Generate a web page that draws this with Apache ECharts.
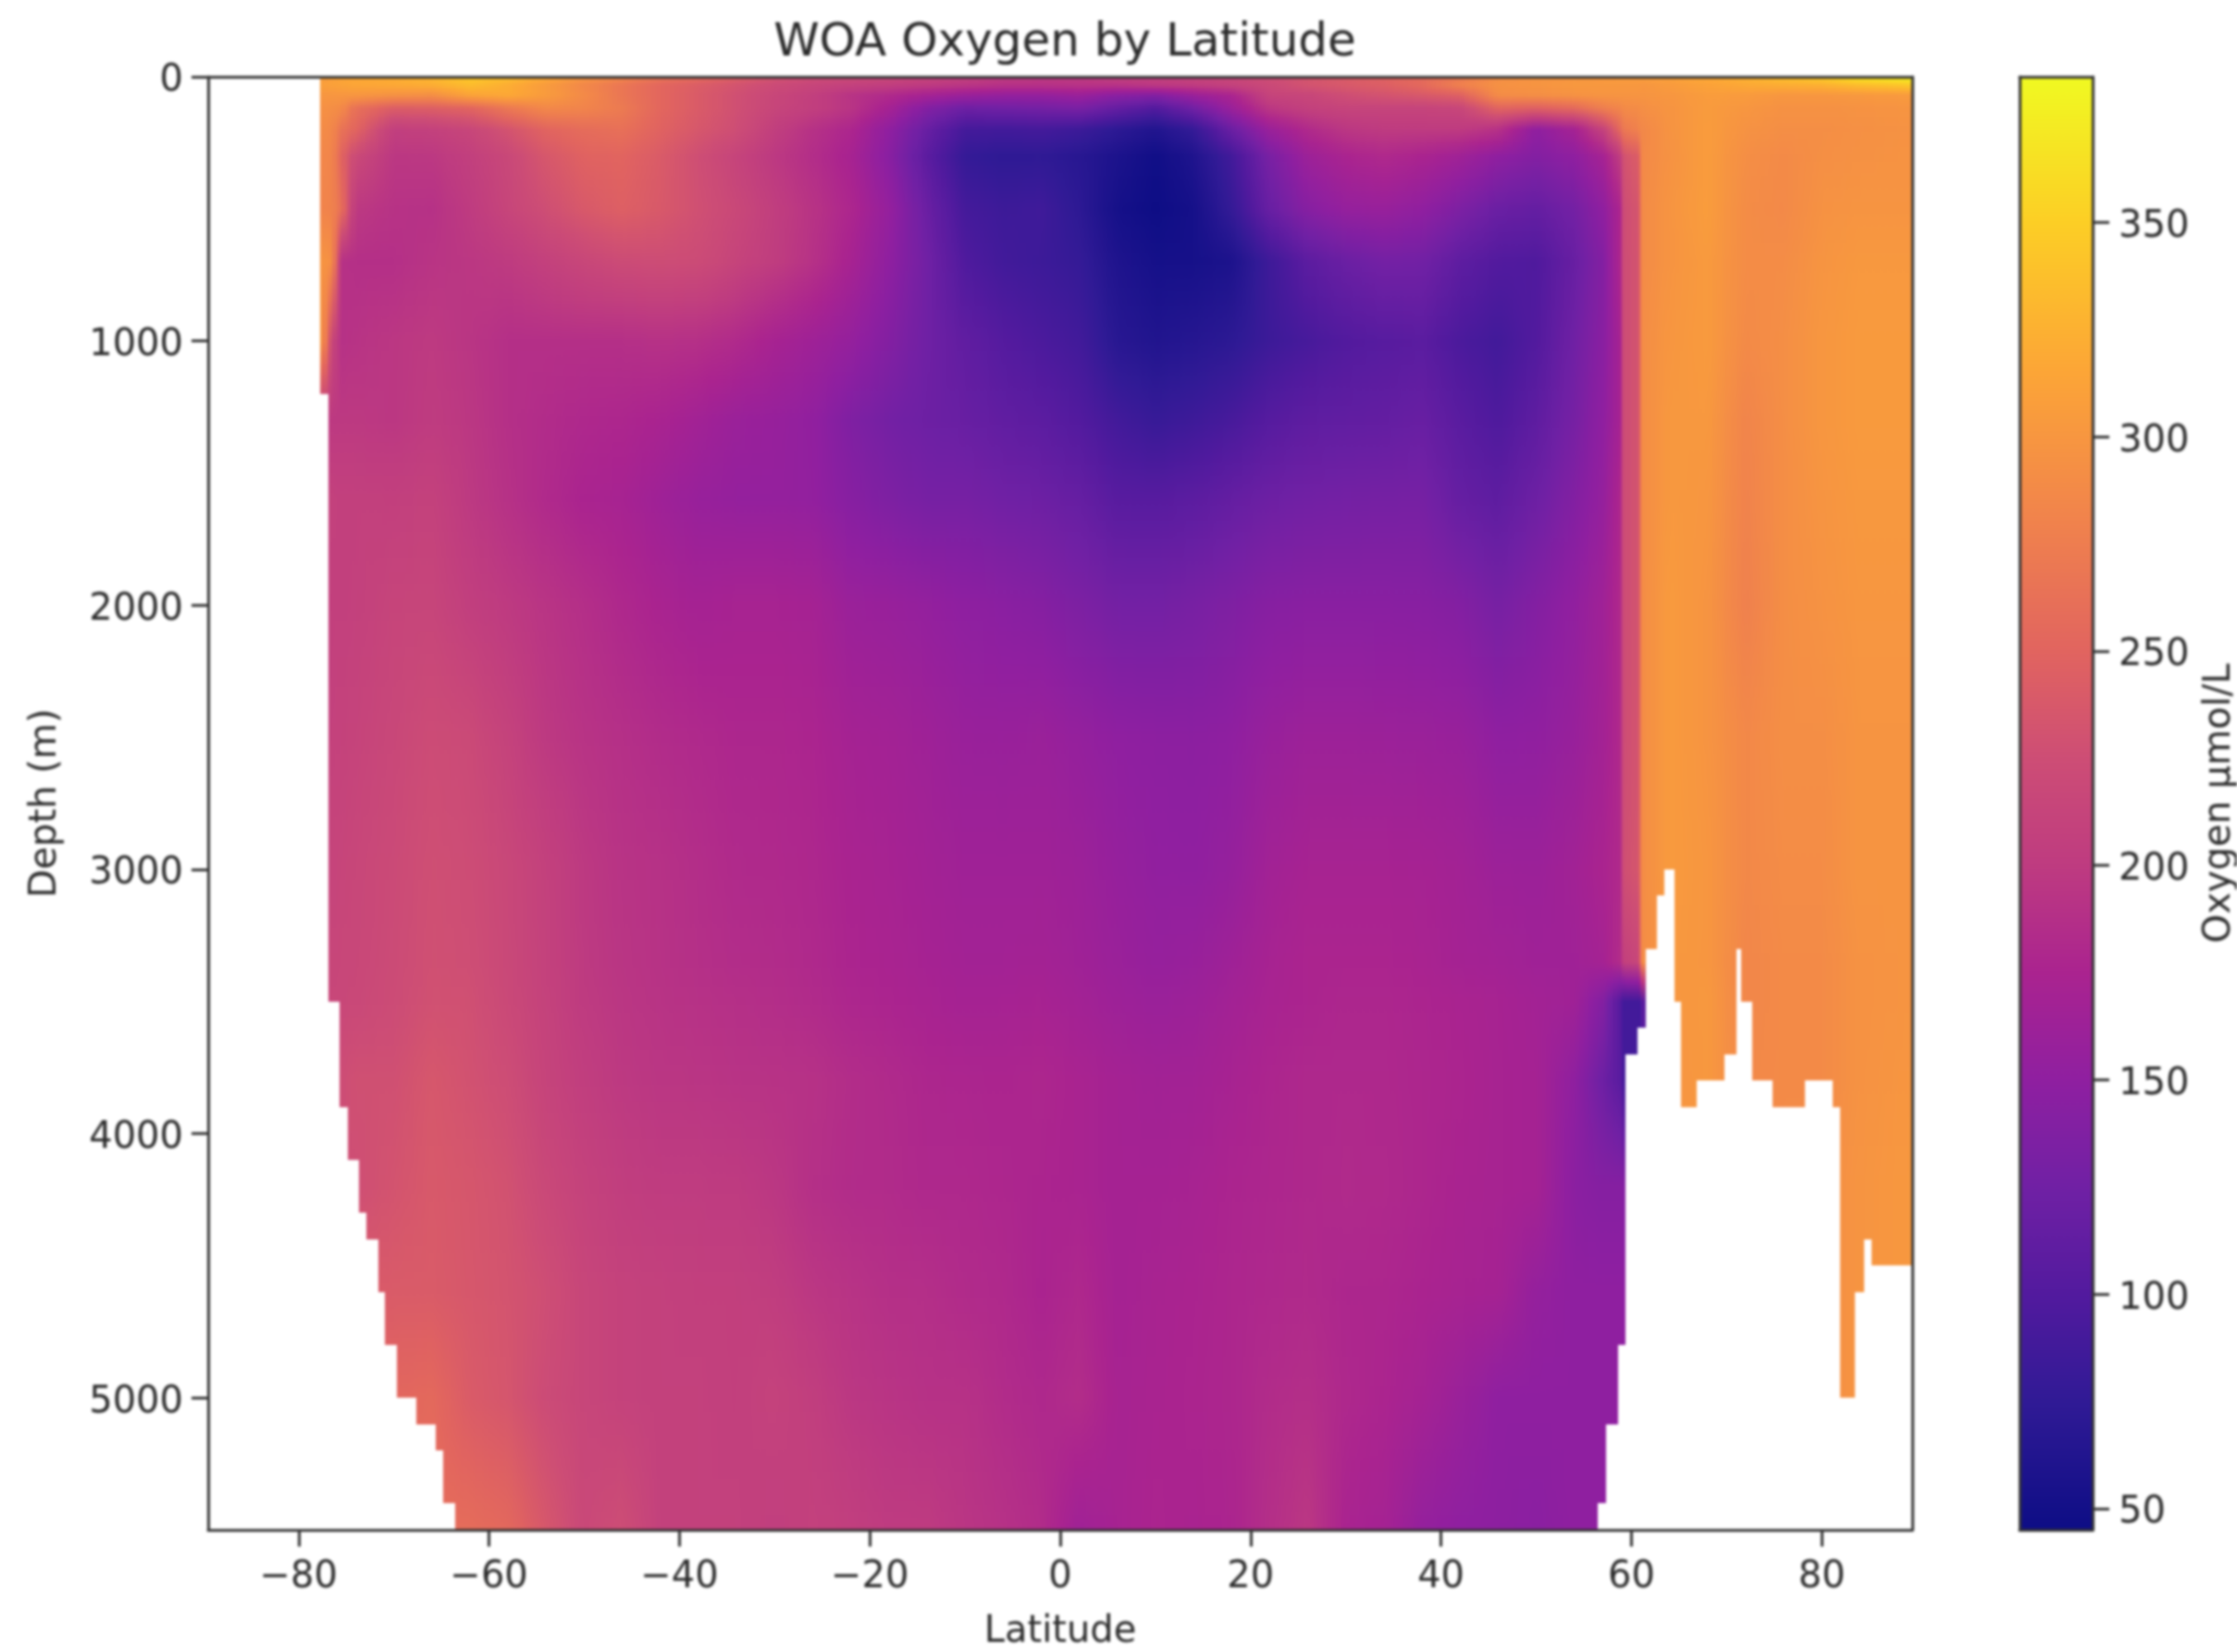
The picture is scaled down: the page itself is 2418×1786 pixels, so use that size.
<!DOCTYPE html>
<html><head><meta charset="utf-8">
<style>html,body{margin:0;padding:0;background:#fff}#c{width:2418px;height:1786px;filter:blur(1.5px)}</style>
<script src="https://cdn.jsdelivr.net/npm/echarts@6/dist/echarts.min.js"></script>
</head><body><div id="c"></div>
<script>
const titleText = 'WOA Oxygen by Latitude';
const xName = 'Latitude', yName = 'Depth (m)', cbName = 'Oxygen µmol/L';
const xTicks = [-80,-60,-40,-20,0,20,40,60,80];
const yTicks = [0,1000,2000,3000,4000,5000];
const cbTicks = [50,100,150,200,250,300,350];
const paletteValues = [45,75,100,125,150,175,200,225,250,282,316,350,384];
const paletteColors = ['#0d0d85','#301a95','#521a9e','#7020a4','#8f1fa0','#aa238f','#be3b80','#cd4d75','#e1645f','#f1844b','#fca636','#fcce25','#f0f921'];
const oxyMin = 45, oxyMax = 384;
const latitudes = [-77.7,-76.5,-75.5,-74,-70,-66,-62,-58,-54,-50,-46,-42,
 -38,-34,-30,-26,-22,-18,-14,-10,-6,-2,2,6,
 10,14,18,22,26,30,34,38,42,46,50,54,
 57,58.9,59.1,60.8,61,64,68,72,76,80,84,89.5];
const depths = [0,30,70,120,200,300,500,700,1000,1300,1600,2000,2500,3000,3350,3500,3800,4200,4600,5000,5500];
const oxygen = [
[305,310,315,318,322,330,345,338,320,300,285,268, 258,245,232,225,222,218,212,205,200,198,198,205, 205,210,215,225,232,240,247,255,270,292,298,300, 303,305,305,307,308,310,318,326,338,350,372,384],
[308,310,312,315,318,322,335,322,305,285,268,252, 242,232,222,214,208,204,200,195,190,190,192,192, 198,202,210,220,232,238,244,255,278,295,298,302, 302,302,302,302,300,305,312,318,322,325,335,345],
[300,300,300,300,295,292,312,318,305,288,268,252, 240,228,216,206,192,182,170,160,155,155,160,146, 140,160,175,212,215,226,232,238,246,290,292,296, 298,298,298,298,298,300,306,305,300,300,302,304],
[295,292,288,262,242,244,250,270,286,282,272,252, 240,228,214,205,193,170,140,122,125,128,132,115, 100,125,160,196,208,212,212,212,215,250,245,255, 276,284,288,290,292,298,305,300,295,295,296,298],
[290,285,265,250,205,208,215,232,250,258,262,248, 236,225,205,190,178,150,118,90,88,90,84,72, 62,78,120,160,182,196,200,200,200,190,150,170, 210,258,268,282,285,297,306,296,292,292,294,296],
[285,282,250,220,196,197,206,218,236,248,250,240, 226,212,198,186,172,145,108,78,73,74,68,58, 48,60,88,132,162,175,181,175,165,150,140,150, 170,205,228,245,286,296,306,292,288,293,295,297],
[282,280,262,198,191,190,200,214,226,238,245,238, 228,218,204,192,178,155,120,90,84,86,72,52, 45,52,78,118,143,155,158,151,135,120,115,128, 150,178,222,236,288,298,306,290,287,296,298,298],
[300,292,190,188,188,193,196,200,208,216,222,224, 222,212,202,190,172,150,125,98,88,84,78,60, 52,53,58,85,108,120,128,126,110,100,98,118, 140,180,222,234,288,298,304,290,290,298,302,302],
[312,215,190,192,196,199,194,188,188,188,188,190, 188,182,172,164,155,140,124,112,102,95,88,68, 62,66,72,84,92,100,104,107,95,88,100,125, 145,172,222,234,290,300,304,288,292,300,304,304],
[200,198,198,198,196,201,196,188,184,180,178,174, 167,160,157,152,137,128,122,118,112,108,100,88, 80,85,92,103,110,112,114,118,106,97,110,130, 150,172,222,234,290,302,302,282,292,300,304,304],
[208,208,207,207,206,209,198,190,182,175,172,164, 158,155,155,153,143,136,130,130,125,122,116,105, 104,108,115,122,126,128,129,130,116,110,122,140, 155,180,222,234,290,302,300,280,292,298,302,302],
[205,206,207,208,213,214,205,199,193,187,180,174, 170,172,172,170,160,158,154,149,146,142,135,128, 127,131,137,143,145,145,145,144,140,130,140,152, 165,182,222,234,290,304,298,278,292,296,300,300],
[208,209,210,212,217,223,220,210,198,192,188,184, 181,178,178,176,170,168,164,159,158,160,155,150, 148,147,150,158,162,162,161,160,158,150,151,158, 168,182,222,235,290,304,298,286,292,292,298,298],
[212,212,214,216,221,227,224,217,208,198,192,190, 186,182,181,179,174,172,168,165,165,165,162,156, 152,151,156,167,172,172,172,171,168,162,161,167, 175,182,225,236,290,304,300,286,290,290,298,298],
[214,215,216,217,222,228,226,218,209,199,194,191, 188,185,184,181,176,174,171,168,168,169,165,160, 156,158,164,172,176,176,176,174,170,168,165,165, 170,185,205,218,290,302,300,284,288,288,296,298],
[215,216,217,218,223,229,228,219,210,200,195,192, 190,188,186,183,178,176,173,170,171,172,168,163, 160,162,168,173,176,178,178,176,174,172,168,165, 140,100,88,88,88,300,302,284,288,288,296,298],
[220,222,225,228,228,236,230,224,212,204,198,195, 194,192,191,190,185,182,178,177,176,178,174,170, 167,168,172,177,180,180,180,178,176,172,170,150, 122,105,90,90,90,298,302,286,288,288,296,300],
[222,224,225,226,232,238,235,230,218,210,204,201, 201,200,196,188,184,183,180,180,178,176,174,170, 170,172,176,178,180,182,181,178,174,172,170,146, 142,142,142,142,290,298,300,288,290,292,298,302],
[232,234,236,238,240,240,236,232,226,215,210,208, 206,206,203,196,192,188,187,183,181,175,180,170, 173,175,178,180,182,178,178,175,172,170,155,150, 150,150,150,150,290,298,300,288,290,292,298,302],
[245,248,250,252,252,255,240,234,222,215,210,208, 208,206,210,204,196,193,190,190,184,180,185,172, 174,176,178,184,187,180,176,170,160,150,150,150, 150,150,150,150,290,298,300,288,290,292,298,302],
[250,252,254,256,258,258,258,254,236,218,225,208, 208,208,205,208,205,200,200,194,190,184,165,172, 176,174,176,187,196,174,170,155,150,148,146,150, 150,150,150,150,290,298,300,288,290,292,298,302]
];
// Sea floor: depth of the deepest observation between consecutive latitude edges
const floorEdges = [-77.7,-76.9,-75.7,-74.8,-73.7,-72.9,-71.6,-70.9,-69.7,-67.6,-65.6,-64.8,-63.6,56.5,57.3,58.6,59.4,60.6,61.5,62.7,63.5,64.5,65.2,66.9,69.8,71,71.5,72.7,74.8,78.2,81.1,81.9,83.5,84.4,85.2,89.5];
const floorDepths = [1200,3500,3900,4100,4300,4400,4600,4800,5000,5100,5200,5400,5500,5400,5100,4800,3700,3600,3300,3100,3000,3500,3900,3800,3700,3300,3500,3800,3900,3800,3900,5000,4600,4400,4500];

const INK = '#2b2b2b', FRAME = '#333333', FONT = 'DejaVu Sans';
function colorOf(v) {
  const x = Math.min(oxyMax, Math.max(oxyMin, v));
  let i = 0;
  while (i < paletteValues.length - 2 && x > paletteValues[i + 1]) i++;
  const t = (x - paletteValues[i]) / (paletteValues[i + 1] - paletteValues[i]);
  return echarts.color.lerp(t, [paletteColors[i], paletteColors[i + 1]]);
}
const floorAt = lat => {
  for (let i = 0; i < floorDepths.length; i++) if (lat >= floorEdges[i] && lat < floorEdges[i + 1]) return floorDepths[i];
  return -1;
};

const cells = [];
for (let r = 0; r + 1 < depths.length; r++)
  for (let c = 0; c + 1 < latitudes.length; c++)
    cells.push([latitudes[c], latitudes[c + 1], depths[r], depths[r + 1],
      oxygen[r][c], oxygen[r][c + 1], oxygen[r + 1][c], oxygen[r + 1][c + 1]]);

function renderCell(params, api) {
  const la0 = api.value(0), la1 = api.value(1), d0 = api.value(2), d1 = api.value(3);
  const a = api.value(4), b = api.value(5), e = api.value(6), f = api.value(7);
  const br = [la0, la1];
  for (let x = Math.ceil(la0 * 2) / 2; x < la1; x += 0.5) if (x > la0) br.push(x);
  floorEdges.forEach(x => { if (x > la0 && x < la1) br.push(x); });
  br.sort((p, q) => p - q);
  const children = [];
  for (let i = 0; i + 1 < br.length; i++) {
    const l = br[i], h = br[i + 1]; if (h - l < 1e-6) continue;
    const mid = (l + h) / 2, fl = floorAt(mid);
    if (fl <= d0) continue;
    const t = (mid - la0) / (la1 - la0);
    const top = a + (b - a) * t, bot = e + (f - e) * t;
    const dEnd = Math.min(d1, fl);
    const botC = top + (bot - top) * (dEnd - d0) / (d1 - d0);
    const p0 = api.coord([l, d0]), p1 = api.coord([h, dEnd]);
    const x0 = Math.round(p0[0]), x1 = Math.round(p1[0]), y0 = Math.round(p0[1]), y1 = Math.round(p1[1]);
    if (x1 <= x0 || y1 <= y0) continue;
    children.push({ type: 'rect', shape: { x: x0, y: y0, width: x1 - x0, height: y1 - y0 },
      style: { fill: new echarts.graphic.LinearGradient(0, 0, 0, 1, [
        { offset: 0, color: colorOf(top) },
        { offset: 0.5, color: colorOf((top + botC) / 2) },
        { offset: 1, color: colorOf(botC) }]) } });
  }
  return { type: 'group', children };
}

function renderBar(params, api) {
  const p0 = api.coord([0, api.value(1)]), p1 = api.coord([1, api.value(0)]);
  const span = oxyMax - oxyMin;
  return { type: 'rect', shape: { x: p0[0], y: p0[1], width: p1[0] - p0[0], height: p1[1] - p0[1] },
    style: { fill: new echarts.graphic.LinearGradient(0, 1, 0, 0, paletteColors.map((c, i) => ({ offset: (paletteValues[i] - oxyMin) / span, color: c }))) } };
}

const line = { show: true, onZero: false, lineStyle: { color: FRAME, width: 3 } };
const tick = vals => ({ show: true, length: 18, inside: false, customValues: vals, lineStyle: { color: FRAME, width: 3 } });
const lab = (vals, margin, extra) => Object.assign({ show: true, customValues: vals, fontFamily: FONT, fontSize: 40, color: INK, margin, hideOverlap: false,
  formatter: v => String(v).replace('-', '\u2212') }, extra || {});
const bare = { splitLine: { show: false }, axisTick: { show: false }, axisLabel: { show: false }, z: 10 };
const nameFont = { fontFamily: FONT, fontSize: 40, color: INK };
const lowered = { verticalAlign: 'top', lineHeight: 10 };

const chart = echarts.init(document.getElementById('c'), null, { renderer: 'canvas' });
chart.setOption({
  animation: false,
  backgroundColor: '#ffffff',
  title: { text: titleText, left: 1146, top: 42, textAlign: 'center', textVerticalAlign: 'middle',
    textStyle: { fontFamily: FONT, fontSize: 50, fontWeight: 'normal', color: INK } },
  grid: [
    { left: 225, top: 83, width: 1842, height: 1571, outerBoundsMode: 'none', containLabel: false },
    { left: 2183, top: 83, width: 79, height: 1571, outerBoundsMode: 'none', containLabel: false }
  ],
  xAxis: [
    { type: 'value', gridIndex: 0, position: 'bottom', min: -89.5, max: 89.5, z: 10, splitLine: { show: false }, axisLine: line,
      axisTick: tick(xTicks), axisLabel: lab(xTicks, 32),
      name: xName, nameLocation: 'middle', nameMoveOverlap: false, nameGap: 91, nameTextStyle: nameFont },
    Object.assign({ type: 'value', gridIndex: 0, position: 'top', min: -89.5, max: 89.5, axisLine: line }, bare),
    Object.assign({ type: 'value', gridIndex: 1, position: 'bottom', min: 0, max: 1, axisLine: line }, bare),
    Object.assign({ type: 'value', gridIndex: 1, position: 'top', min: 0, max: 1, axisLine: line }, bare)
  ],
  yAxis: [
    { type: 'value', gridIndex: 0, position: 'left', inverse: true, min: 0, max: 5500, z: 10, splitLine: { show: false }, axisLine: line,
      axisTick: tick(yTicks), axisLabel: lab(yTicks, 27, lowered),
      name: yName, nameLocation: 'middle', nameMoveOverlap: false, nameRotate: 90, nameGap: 155, nameTextStyle: nameFont },
    Object.assign({ type: 'value', gridIndex: 0, position: 'right', inverse: true, min: 0, max: 5500, axisLine: line }, bare),
    { type: 'value', gridIndex: 1, position: 'right', min: oxyMin, max: oxyMax, z: 10, splitLine: { show: false }, axisLine: line,
      axisTick: tick(cbTicks), axisLabel: lab(cbTicks, 28, lowered),
      name: cbName, nameLocation: 'middle', nameMoveOverlap: false, nameRotate: 90, nameGap: 118, nameTextStyle: nameFont },
    Object.assign({ type: 'value', gridIndex: 1, position: 'left', min: oxyMin, max: oxyMax, axisLine: line }, bare)
  ],
  series: [
    { type: 'custom', name: 'Oxygen', coordinateSystem: 'cartesian2d', xAxisIndex: 0, yAxisIndex: 0, z: 2, silent: true, progressive: 0,
      clip: true, renderItem: renderCell, data: cells, encode: { x: [0, 1], y: [2, 3] } },
    { type: 'custom', name: 'Colorbar', coordinateSystem: 'cartesian2d', xAxisIndex: 2, yAxisIndex: 2, z: 2, silent: true,
      renderItem: renderBar, data: [[oxyMin, oxyMax]], encode: { y: [0, 1] } }
  ]
});
</script></body></html>
